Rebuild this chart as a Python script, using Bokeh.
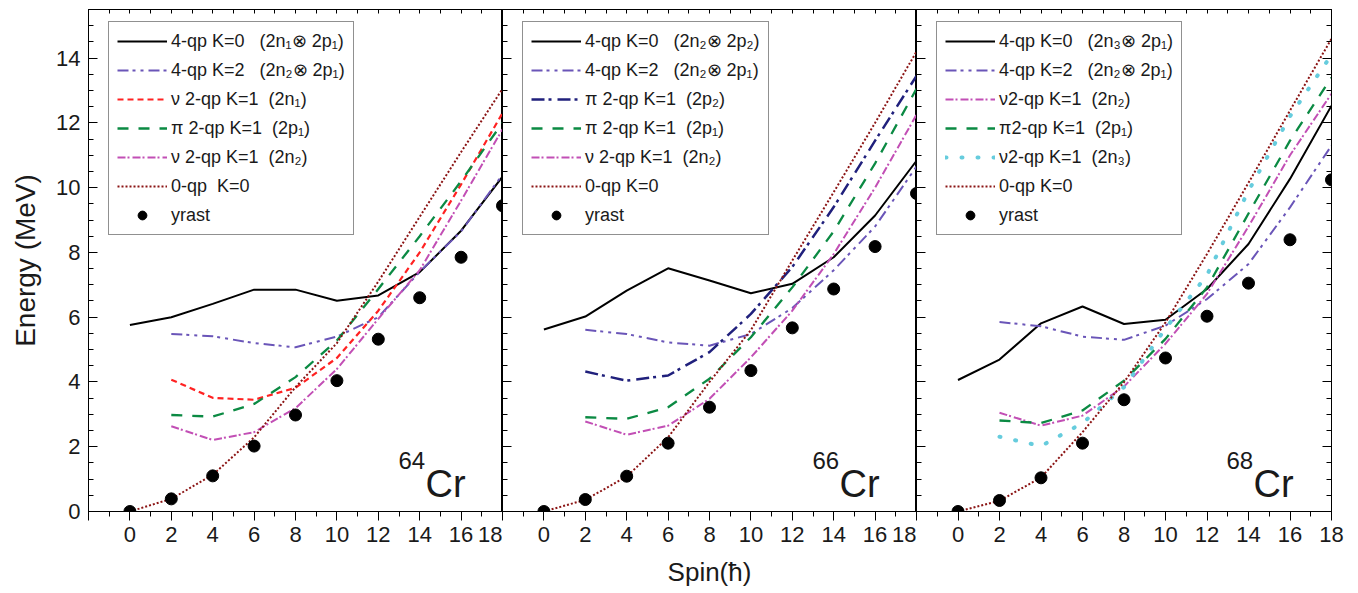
from bokeh.plotting import figure
from bokeh.models import (Range1d, SingleIntervalTicker, LinearAxis, Legend, LegendItem, Label,
                          CustomLabelingPolicy)
from bokeh.layouts import row
from bokeh.embed import file_html
from bokeh.resources import INLINE

# ---------------- data ----------------
spin_all = [0, 2, 4, 6, 8, 10, 12, 14, 16, 18]
spin_2qp = [2, 4, 6, 8, 10, 12, 14, 16, 18]

# 64Cr
cr64_4qp_k0 = [5.76, 6.00, 6.41, 6.85, 6.85, 6.51, 6.67, 7.39, 8.67, 10.34]
cr64_4qp_k2 = [5.48, 5.41, 5.20, 5.07, 5.40, 6.00, 7.40, 8.65, 10.40]
cr64_nu_2n1 = [4.07, 3.51, 3.45, 3.82, 4.74, 6.20, 8.00, 10.10, 12.30]
cr64_pi_2p1 = [2.98, 2.93, 3.32, 4.15, 5.28, 6.87, 8.50, 10.20, 12.00]
cr64_nu_2n2 = [2.63, 2.21, 2.45, 3.19, 4.40, 5.95, 7.45, 9.60, 11.80]
cr64_0qp = [0.00, 0.39, 1.13, 2.29, 3.84, 5.20, 7.10, 9.10, 11.10, 13.05]
cr64_yrast = [0.00, 0.39, 1.10, 2.02, 2.98, 4.04, 5.32, 6.60, 7.85, 9.44]

# 66Cr
cr66_4qp_k0 = [5.62, 6.02, 6.82, 7.51, 7.13, 6.74, 7.03, 7.85, 9.14, 10.83]
cr66_4qp_k2 = [5.61, 5.48, 5.22, 5.12, 5.48, 6.28, 7.45, 8.80, 10.65]
cr66_pi_2p2 = [4.32, 4.04, 4.20, 4.92, 6.10, 7.55, 9.40, 11.45, 13.45]
cr66_pi_2p1 = [2.91, 2.86, 3.22, 4.10, 5.38, 6.92, 8.65, 10.75, 13.05]
cr66_nu_2n2 = [2.78, 2.37, 2.65, 3.48, 4.76, 6.20, 7.95, 10.00, 12.25]
cr66_0qp = [0.00, 0.36, 1.08, 2.29, 4.00, 5.60, 7.75, 9.86, 12.00, 14.20]
cr66_yrast = [0.00, 0.37, 1.09, 2.11, 3.22, 4.35, 5.67, 6.87, 8.18, 9.82]

# 68Cr
cr68_4qp_k0 = [4.06, 4.69, 5.81, 6.33, 5.79, 5.92, 6.87, 8.26, 10.27, 12.53]
cr68_4qp_k2 = [5.85, 5.72, 5.40, 5.30, 5.74, 6.56, 7.64, 9.39, 11.30]
cr68_nu_2n2 = [3.05, 2.65, 2.96, 3.86, 5.18, 6.72, 8.80, 11.00, 12.90]
cr68_pi_2p1 = [2.81, 2.73, 3.12, 4.04, 5.33, 6.92, 9.20, 11.45, 13.40]
cr68_nu_2n3 = [2.31, 2.02, 2.73, 3.84, 5.65, 7.30, 9.90, 12.20, 14.10]
cr68_0qp = [0.00, 0.33, 1.05, 2.45, 3.99, 5.84, 7.95, 10.15, 12.38, 14.60]
cr68_yrast = [0.00, 0.34, 1.04, 2.11, 3.45, 4.74, 6.03, 7.05, 8.39, 10.24]

S3 = "\u00a0\u00a0\u00a0"
S2 = "\u00a0\u00a0"
labels64 = ["4-qp K=0" + S3 + "(2n\u2081\u2297 2p\u2081)",
            "4-qp K=2" + S3 + "(2n\u2082\u2297 2p\u2081)",
            "\u03bd 2-qp K=1" + S2 + "(2n\u2081)",
            "\u03c0 2-qp K=1" + S2 + "(2p\u2081)",
            "\u03bd 2-qp K=1" + S2 + "(2n\u2082)",
            "0-qp" + S2 + "K=0",
            "yrast"]
labels66 = ["4-qp K=0" + S3 + "(2n\u2082\u2297 2p\u2082)",
            "4-qp K=2" + S3 + "(2n\u2082\u2297 2p\u2081)",
            "\u03c0 2-qp K=1" + S2 + "(2p\u2082)",
            "\u03c0 2-qp K=1" + S2 + "(2p\u2081)",
            "\u03bd 2-qp K=1" + S2 + "(2n\u2082)",
            "0-qp K=0",
            "yrast"]
labels68 = ["4-qp K=0" + S3 + "(2n\u2083\u2297 2p\u2081)",
            "4-qp K=2" + S3 + "(2n\u2082\u2297 2p\u2081)",
            "\u03bd2-qp K=1" + S2 + "(2n\u2082)",
            "\u03c02-qp K=1" + S2 + "(2p\u2081)",
            "\u03bd2-qp K=1" + S2 + "(2n\u2083)",
            "0-qp K=0",
            "yrast"]

# ---------------- styles ----------------
STY = {
    "k0": dict(line_color="black", line_width=2),
    "k2": dict(line_color="#6a55b8", line_width=2, line_dash="11 4 3 5 3 5"),
    "red": dict(line_color="#ff2222", line_width=2.2, line_dash="6 4"),
    "green": dict(line_color="#0b8a43", line_width=2.3, line_dash="11 10"),
    "mag": dict(line_color="#c24fb5", line_width=2, line_dash="8 2 2 3"),
    "navy": dict(line_color="#20207c", line_width=2.5, line_dash="13 4 3 6"),
    "cyan": dict(line_color="#66ccdd", line_width=4, line_dash="1 15", line_cap="round"),
    "dot": dict(line_color="#8b1414", line_width=2, line_dash="2 2"),
}
FONT = "Liberation Sans"
TXT = "#1a1a1a"


def no_labels():
    return CustomLabelingPolicy(code="return [];")


def skip_first_label():
    return CustomLabelingPolicy(code="""
const r = [];
for (const i of indices) { if (i > 0) r.push(i); }
return r;
""")


def make_panel(series, yrast, labels, mass, frame_w, border_l, border_r,
               first=False, last=False, xlabel=None):
    p = figure(frame_width=frame_w, frame_height=502,
               x_range=Range1d(-2, 18), y_range=Range1d(0, 15.5),
               output_backend="svg", toolbar_location=None,
               min_border_left=border_l, min_border_right=border_r,
               min_border_top=9, min_border_bottom=82)
    p.grid.visible = False
    p.outline_line_color = "black"
    p.outline_line_width = 1
    p.background_fill_color = "white"
    p.border_fill_color = "white"

    items = []
    for (xs, ys, key), lab in zip(series, labels[:-1]):
        r = p.line(xs, ys, **STY[key])
        items.append(LegendItem(label=lab, renderers=[r]))
    rs = p.scatter(spin_all, yrast, size=12, color="black")
    items.append(LegendItem(label=labels[-1], renderers=[rs]))

    # bottom axis
    xa = p.xaxis[0]
    xa.ticker = SingleIntervalTicker(interval=2, num_minor_ticks=2)
    xa.major_label_policy = skip_first_label()
    xa.major_tick_in = 0
    xa.major_tick_out = 9
    xa.minor_tick_in = 0
    xa.minor_tick_out = 5
    xa.major_label_standoff = 6
    xa.major_label_text_font = FONT
    xa.major_label_text_font_size = "22px"
    xa.major_label_text_color = TXT
    xa.axis_line_color = "black"
    if xlabel:
        xa.axis_label = xlabel
        xa.axis_label_text_font = FONT
        xa.axis_label_text_font_size = "26px"
        xa.axis_label_text_font_style = "normal"
        xa.axis_label_text_color = TXT
        xa.axis_label_standoff = 12

    # left axis
    ya = p.yaxis[0]
    ya.ticker = SingleIntervalTicker(interval=2, num_minor_ticks=4)
    ya.major_tick_in = 9
    ya.major_tick_out = 0
    ya.minor_tick_in = 5
    ya.minor_tick_out = 0
    ya.axis_line_color = "black"
    if first:
        ya.major_label_standoff = 8
        ya.major_label_text_font = FONT
        ya.major_label_text_font_size = "22px"
        ya.major_label_text_color = TXT
        ya.axis_label = "Energy (MeV)"
        ya.axis_label_text_font = FONT
        ya.axis_label_text_font_size = "28px"
        ya.axis_label_text_font_style = "normal"
        ya.axis_label_text_color = TXT
        ya.axis_label_standoff = 12
    else:
        ya.major_label_policy = no_labels()
        ya.major_label_text_font_size = "0px"
        ya.major_label_standoff = 0

    # top axis with inward ticks
    ta = LinearAxis(ticker=SingleIntervalTicker(interval=1, num_minor_ticks=0),
                    major_tick_in=4, major_tick_out=0, minor_tick_in=0, minor_tick_out=0,
                    major_label_policy=no_labels(),
                    major_label_text_font_size="0px", major_label_standoff=0,
                    axis_line_color="black")
    p.add_layout(ta, "above")
    if last:
        ra = LinearAxis(ticker=SingleIntervalTicker(interval=2, num_minor_ticks=4),
                        major_tick_in=9, major_tick_out=0, minor_tick_in=5, minor_tick_out=0,
                        major_label_policy=no_labels(),
                        major_label_text_font_size="0px", major_label_standoff=0,
                        axis_line_color="black")
        p.add_layout(ra, "right")

    leg = Legend(items=items, location=(20, 276),
                 border_line_color="#222222", border_line_width=1,
                 background_fill_color="white", background_fill_alpha=1,
                 label_text_font=FONT, label_text_font_size="18px",
                 label_text_color=TXT,
                 glyph_width=50, glyph_height=22, label_height=22,
                 spacing=7, padding=8, label_standoff=4)
    p.add_layout(leg)

    p.add_layout(Label(x=310, y=51, x_units="screen", y_units="screen", text=mass,
                       text_font=FONT, text_font_size="24px", text_color=TXT,
                       text_baseline="alphabetic"))
    p.add_layout(Label(x=337, y=28, x_units="screen", y_units="screen", text="Cr",
                       text_font=FONT, text_font_size="38px", text_color=TXT,
                       text_baseline="alphabetic"))
    return p


p1 = make_panel([(spin_all, cr64_4qp_k0, "k0"), (spin_2qp, cr64_4qp_k2, "k2"),
                 (spin_2qp, cr64_nu_2n1, "red"), (spin_2qp, cr64_pi_2p1, "green"),
                 (spin_2qp, cr64_nu_2n2, "mag"), (spin_all, cr64_0qp, "dot")],
                cr64_yrast, labels64, "64", 414, 88, 0, first=True)
p2 = make_panel([(spin_all, cr66_4qp_k0, "k0"), (spin_2qp, cr66_4qp_k2, "k2"),
                 (spin_2qp, cr66_pi_2p2, "navy"), (spin_2qp, cr66_pi_2p1, "green"),
                 (spin_2qp, cr66_nu_2n2, "mag"), (spin_all, cr66_0qp, "dot")],
                cr66_yrast, labels66, "66", 414, 0, 0, xlabel="Spin(\u0127)")
p3 = make_panel([(spin_all, cr68_4qp_k0, "k0"), (spin_2qp, cr68_4qp_k2, "k2"),
                 (spin_2qp, cr68_nu_2n2, "mag"), (spin_2qp, cr68_pi_2p1, "green"),
                 (spin_2qp, cr68_nu_2n3, "cyan"), (spin_all, cr68_0qp, "dot")],
                cr68_yrast, labels68, "68", 415, 0, 16, last=True)

layout = row(p1, p2, p3)
open("out.html", "w").write(file_html(layout, INLINE))
